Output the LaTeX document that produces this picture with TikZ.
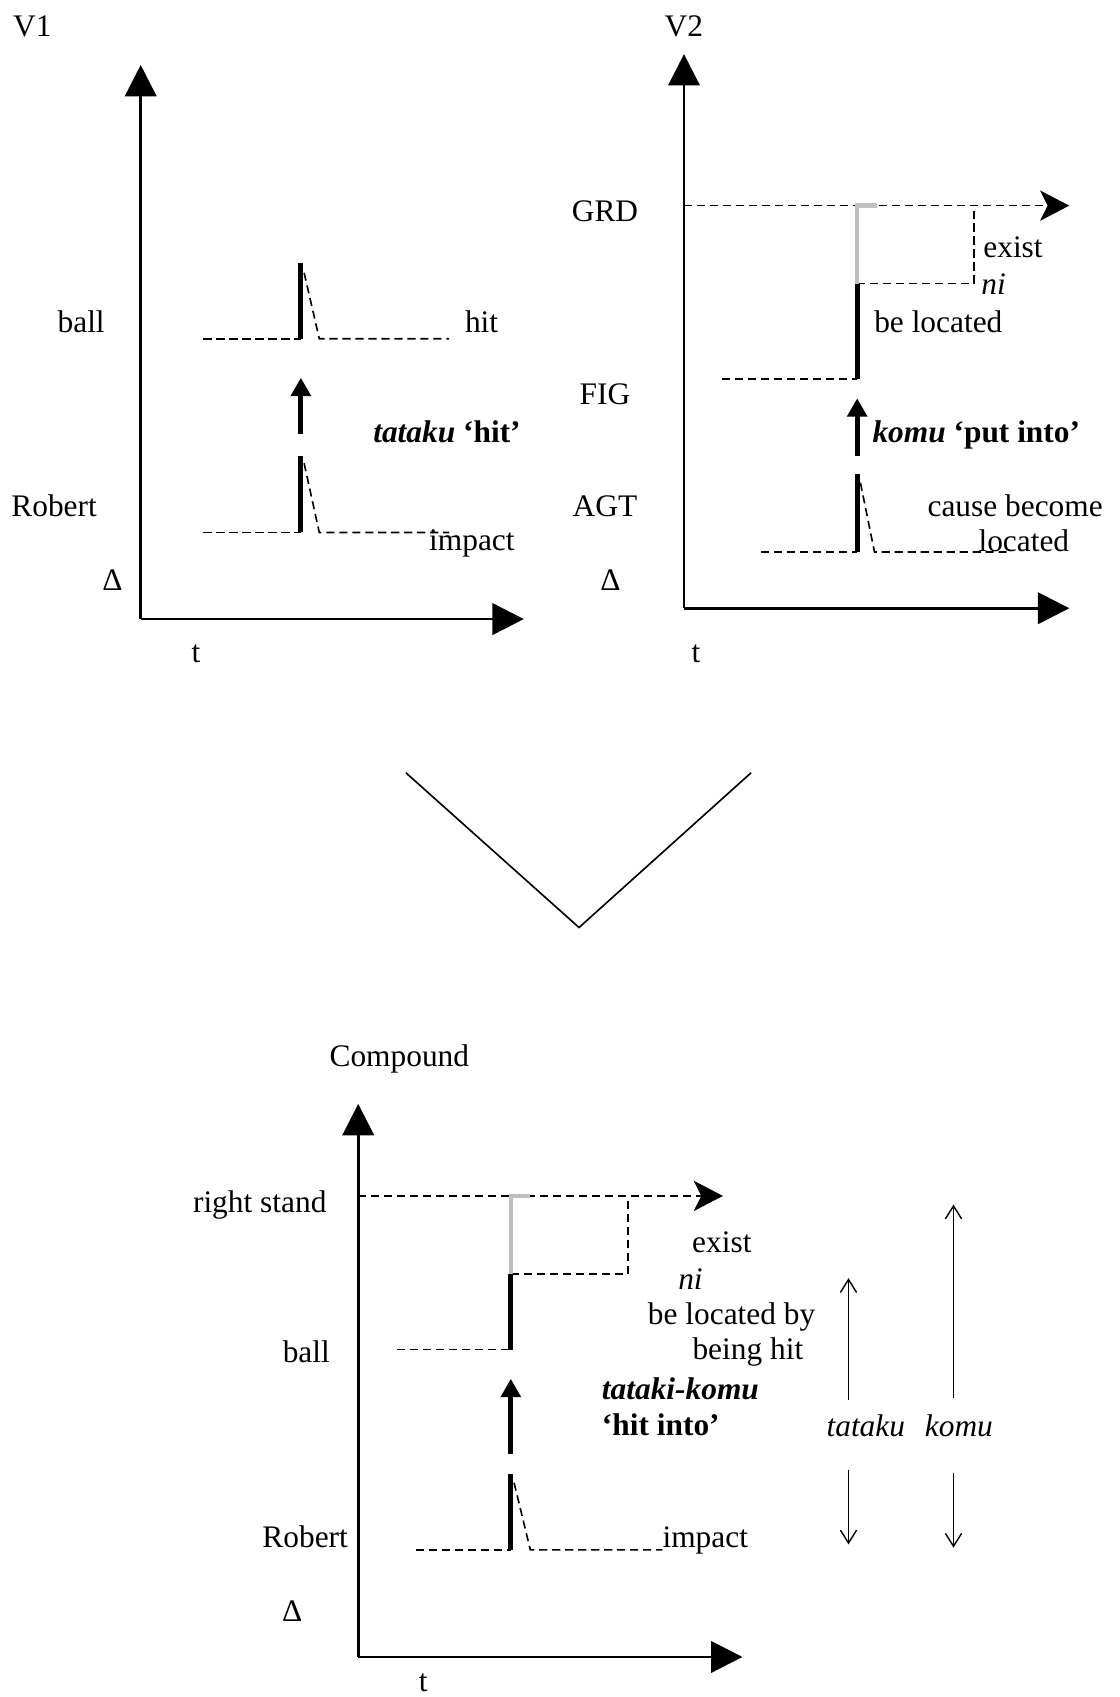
\documentclass[tikz,border=0pt]{standalone}
\usepackage{fontspec}
\setmainfont{Liberation Serif}
\usetikzlibrary{arrows.meta}

\tikzset{
	lbl/.style={font=\fontsize{29}{34}\selectfont, inner sep=0pt, anchor=base},
	axis/.style={line width=2.5pt, -{Triangle[length=29pt,width=29pt]}},
	bar/.style={line width=4.6pt},
	shade/.style={line width=4pt, black!25},
	lapse/.style={line width=1.5pt, dash pattern=on 7.5pt off 4.5pt},
	ground/.style={lapse, -{Stealth[length=27pt,width=28pt,inset=7pt]}},
	push/.style={line width=4.6pt, -{Triangle[length=17pt,width=18pt]}},
	span/.style={line width=1.3pt, -{Straight Barb[length=12pt,width=15pt]}}
}

\begin{document}
\begin{tikzpicture}[x=1pt,y=-1pt]
	\useasboundingbox (0,0) rectangle (1034,1568);

	% V1: tataku
	\draw[axis] (130,572) -- (130,60);
	\draw[axis] (130,572) -- (484,572);
	\node[lbl, anchor=base west] (vone) at (12,34) {V1};
	\node[lbl] (ballA) at (75,307) {ball};
	\node[lbl] (robA) at (50,477) {Robert};
	\node[lbl] (deltaA) at (104,546) {Δ};
	\node[lbl] (tA) at (181,612) {t};
	\node[lbl] (hitA) at (445,307) {hit};
	\node[lbl] (impA) at (436,509) {impact};
	\node[lbl] (verbA) at (413,409) {\textbf{\textit{tataku}} \textbf{‘hit’}};

	\draw[lapse] (188,313) -- (278,313);
	\draw[lapse] (281,252) -- (295,313) -- (415,313);
	\draw[bar] (278,243) -- (278,313);
	\draw[push] (278,401) -- (278,349);
	\draw[lapse] (188,492) -- (278,492);
	\draw[lapse] (281,428) -- (295,492) -- (415,492);
	\draw[bar] (278,421) -- (278,492);

	% V2: komu
	\draw[axis] (632,562) -- (632,50);
	\draw[axis] (632,562) -- (988,562);
	\node[lbl, anchor=base west] (vtwo) at (614,34) {V2};
	\node[lbl] (grd) at (559,205) {GRD};
	\node[lbl] (fig) at (559,374) {FIG};
	\node[lbl] (agt) at (559,477) {AGT};
	\node[lbl] (deltaB) at (564,546) {Δ};
	\node[lbl] (tB) at (643,612) {t};
	\node[lbl] (existB) at (936,238) {exist};
	\node[lbl] (niB) at (918,272) {\textit{ni}};
	\node[lbl] (locB) at (867,307) {be located};
	\node[lbl, anchor=base west] (verbB) at (806,409) {\textbf{\textit{komu}} \textbf{‘put into’}};
	\node[lbl] (causeB) at (938,477) {cause become};
	\node[lbl] (locatedB) at (946,510) {located};

	\draw[ground] (632,190) -- (988,190);
	\draw[lapse] (792,262) -- (900,262) -- (900,190);
	\draw[shade] (792,262) -- (792,190) -- (810,190);
	\draw[lapse] (667,350) -- (792,350);
	\draw[bar] (792,262) -- (792,350);
	\draw[push] (792,421) -- (792,368);
	\draw[lapse] (703,510) -- (792,510);
	\draw[lapse] (795,446) -- (808,510) -- (930,510);
	\draw[bar] (792,438) -- (792,510);

	% the two merge
	\draw[line width=1.5pt] (375,714) -- (535,857) -- (694,714);

	% Compound: tataki-komu
	\draw[axis] (331,1531) -- (331,1020);
	\draw[axis] (331,1531) -- (686,1531);
	\node[lbl] (cmp) at (369,985) {Compound};
	\node[lbl] (stand) at (240,1120) {right stand};
	\node[lbl] (ballC) at (283,1259) {ball};
	\node[lbl] (robC) at (282,1430) {Robert};
	\node[lbl] (deltaC) at (270,1498) {Δ};
	\node[lbl] (tC) at (391,1563) {t};
	\node[lbl] (existC) at (667,1157) {exist};
	\node[lbl] (niC) at (638,1191) {\textit{ni}};
	\node[lbl] (locC) at (676,1224) {be located by};
	\node[lbl] (hitC) at (691,1256) {being hit};
	\node[lbl, anchor=base west] (verbC) at (556,1293) {\textbf{\textit{tataki-komu}}};
	\node[lbl, anchor=base west] (glossC) at (556,1326) {\textbf{‘hit into’}};
	\node[lbl, anchor=base west] (impC) at (612,1430) {impact};
	\node[lbl] (tataku) at (800,1327) {\textit{tataku}};
	\node[lbl] (komu) at (886,1327) {\textit{komu}};

	\draw[ground] (331,1105) -- (668,1105);
	\draw[lapse] (472,1177) -- (580,1177) -- (580,1105);
	\draw[shade] (472,1177) -- (472,1105) -- (490,1105);
	\draw[lapse] (367,1247) -- (472,1247);
	\draw[bar] (472,1177) -- (472,1247);
	\draw[push] (472,1343) -- (472,1274);
	\draw[lapse] (384,1432) -- (472,1432);
	\draw[lapse] (475,1370) -- (490,1432) -- (612,1432);
	\draw[bar] (472,1362) -- (472,1432);

	% reach of each verb
	\draw[span] (784,1294) -- (784,1181);
	\draw[span] (784,1358) -- (784,1427);
	\draw[span] (881,1292) -- (881,1113);
	\draw[span] (881,1361) -- (881,1430);
\end{tikzpicture}
\end{document}
